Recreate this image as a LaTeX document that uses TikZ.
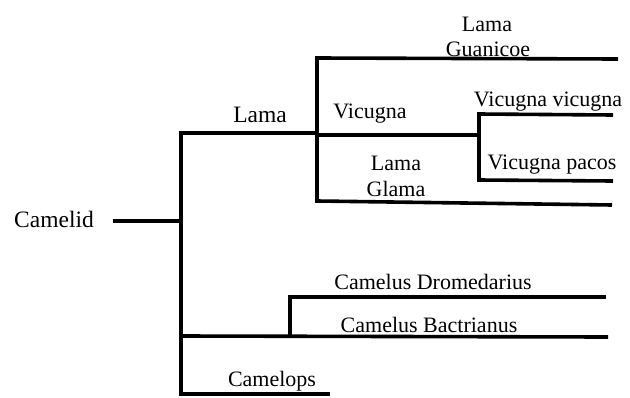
\documentclass[tikz,border=0pt]{standalone}
\usepackage{fontspec}
\setmainfont{Liberation Serif}
\begin{document}
\begin{tikzpicture}[x=1pt,y=-1pt,
  branch/.style={line width=3.6pt, line cap=butt, line join=miter},
  lbl/.style={inner sep=0pt, anchor=base, font=\fontsize{22}{24}\selectfont},
  biglbl/.style={lbl, font=\fontsize{23.5}{26}\selectfont}]
\useasboundingbox[fill=white] (0,0) rectangle (630,397);
% junction coordinates
\coordinate (rootS) at (113,221);
\coordinate (rootJ) at (181,221);
\coordinate (mainTop) at (181,133);
\coordinate (mainBot) at (181,394);
\coordinate (lamaJ) at (317,133);
\coordinate (lamaTop) at (317,58);
\coordinate (lamaBot) at (317,201);
\coordinate (guanE) at (618,59);
\coordinate (glamaE) at (612,205);
\coordinate (vicJ) at (479,135);
\coordinate (vicS) at (317,135);
\coordinate (vicTop) at (479,114);
\coordinate (vicBot) at (479,180);
\coordinate (vvE) at (613,115);
\coordinate (vpE) at (613,181);
\coordinate (camJ) at (290,336);
\coordinate (camS) at (181,336);
\coordinate (camTop) at (290,297);
\coordinate (dromE) at (606,297);
\coordinate (bactE) at (608,337);
\coordinate (camelopsE) at (330,394);
% branches
\draw[branch] (rootS) -- (rootJ);
\draw[branch] (lamaJ) -- (mainTop) -- (mainBot) -- (camelopsE);
\draw[branch] (guanE) -- (lamaTop) -- (lamaBot) -- (glamaE);
\draw[branch] (vicS) -- (vicJ);
\draw[branch] (vvE) -- (vicTop) -- (vicBot) -- (vpE);
\draw[branch] (camS) -- (bactE);
\draw[branch] (dromE) -- (camTop) -- (camJ);
% labels
\node[biglbl] (camelid) at (54,227) {Camelid};
\node[biglbl] (lama) at (260,122) {Lama};
\node[lbl] (guan1) at (487,31) {Lama};
\node[lbl] (guan2) at (488,56) {Guanicoe};
\node[lbl] (vicugna) at (370,118) {Vicugna};
\node[lbl] (vv) at (548,106) {Vicugna vicugna};
\node[lbl] (vp) at (552,169) {Vicugna pacos};
\node[lbl] (glama1) at (396,170) {Lama};
\node[lbl] (glama2) at (396,196) {Glama};
\node[lbl] (drom) at (433,289) {Camelus Dromedarius};
\node[lbl] (bact) at (429,332) {Camelus Bactrianus};
\node[lbl] (camelops) at (272,386) {Camelops};
\end{tikzpicture}
\end{document}
